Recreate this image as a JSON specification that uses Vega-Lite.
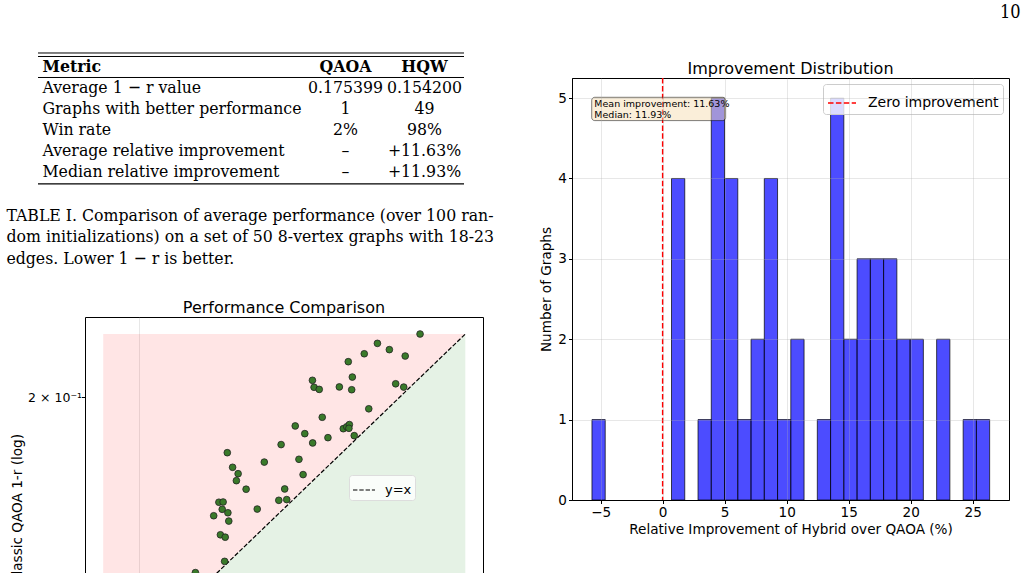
{
  "$schema": "https://vega.github.io/schema/vega-lite/v6.json",
  "padding": {"left": 6, "top": 4, "right": 0, "bottom": 0},
  "background": "white",
  "config": {"font": "DejaVu Sans", "view": {"stroke": null}},
  "title": {"text": "10", "anchor": "end", "font": "DejaVu Serif Condensed, DejaVu Serif", "fontSize": 18, "fontWeight": "normal", "color": "black", "offset": 30, "dx": 11},
  "resolve": {"scale": {"color": "independent"}, "legend": {"color": "independent"}},
  "spacing": 44,
  "hconcat": [
    {
      "spacing": 31,
      "resolve": {"scale": {"color": "independent"}, "legend": {"color": "independent"}},
      "vconcat": [
        {
          "width": 426,
          "height": 131,
          "data": {"values": [
            {"metric": "Metric", "QAOA": "QAOA", "HQW": "HQW"},
            {"metric": "Average 1 − r value", "QAOA": "0.175399", "HQW": "0.154200"},
            {"metric": "Graphs with better performance", "QAOA": "1", "HQW": "49"},
            {"metric": "Win rate", "QAOA": "2%", "HQW": "98%"},
            {"metric": "Average relative improvement", "QAOA": "–", "HQW": "+11.63%"},
            {"metric": "Median relative improvement", "QAOA": "–", "HQW": "+11.93%"}
          ]},
          "transform": [{"fold": ["QAOA", "HQW"], "as": ["col", "val"]}],
          "title": {
            "text": ["TABLE I. Comparison of average performance (over 100 ran-", "dom initializations) on a set of 50 8-vertex graphs with 18-23", "edges. Lower 1 − r is better."],
            "orient": "bottom", "anchor": "start", "font": "DejaVu Serif Condensed, DejaVu Serif", "fontSize": 17.5, "fontWeight": "normal", "color": "black", "lineHeight": 21.5, "offset": 22, "dx": -31, "baseline": "top"
          },
          "layer": [
            {
              "transform": [{"filter": "datum.metric !== 'Metric'"}],
              "mark": {"type": "text", "font": "DejaVu Serif Condensed, DejaVu Serif", "fontSize": 17.5, "color": "black"},
              "encoding": {
                "x": {"field": "col", "type": "nominal", "scale": {"type": "band", "domain": ["QAOA", "HQW"], "range": [268, 426], "paddingInner": 0, "paddingOuter": 0}, "axis": null},
                "y": {"field": "metric", "type": "nominal",
                  "scale": {"type": "band", "domain": ["Metric", "Average 1 − r value", "Graphs with better performance", "Win rate", "Average relative improvement", "Median relative improvement"], "paddingInner": 0, "paddingOuter": 0.119, "align": 0.7},
                  "axis": {"orient": "left", "title": null, "domain": false, "ticks": false, "grid": false, "labelAlign": "left", "labelPadding": -4, "labelLimit": 0, "labelFont": "DejaVu Serif Condensed, DejaVu Serif", "labelFontSize": 17.5, "labelColor": "black",
                    "labelFontWeight": {"condition": {"test": "datum.value === 'Metric'", "value": "bold"}, "value": "normal"}}},
                "text": {"field": "val"}
              }
            },
            {
              "transform": [{"filter": "datum.metric === 'Metric'"}],
              "mark": {"type": "text", "font": "DejaVu Serif Condensed, DejaVu Serif", "fontSize": 17.5, "fontWeight": "bold", "color": "black"},
              "encoding": {
                "x": {"field": "col", "type": "nominal"},
                "y": {"field": "metric", "type": "nominal"},
                "text": {"field": "val"}
              }
            },
            {
              "data": {"values": [{}]},
              "mark": {"type": "rule", "color": "black", "strokeWidth": 1},
              "encoding": {"y": {"datum": "Metric", "type": "nominal", "bandPosition": -0.1667}}
            },
            {
              "data": {"values": [{}]},
              "mark": {"type": "rule", "color": "black", "strokeWidth": 1},
              "encoding": {"y": {"datum": "Metric", "type": "nominal", "bandPosition": 0}}
            },
            {
              "data": {"values": [{}]},
              "mark": {"type": "rule", "color": "black", "strokeWidth": 1},
              "encoding": {"y": {"datum": "Metric", "type": "nominal", "bandPosition": 1}}
            },
            {
              "data": {"values": [{}]},
              "mark": {"type": "rule", "color": "black", "strokeWidth": 1.2},
              "encoding": {"y": {"datum": "Median relative improvement", "type": "nominal", "bandPosition": 1.07}}
            }
          ]
        },
        {
          "bounds": "flush",
          "spacing": 46,
          "hconcat": [
            {"width": 1, "height": 1, "data": {"values": []}, "mark": "point"},
            {
              "width": 398,
              "height": 383,
              "title": {"text": "Performance Comparison", "fontSize": 16, "fontWeight": "normal", "color": "black", "offset": 1, "font": "DejaVu Sans"},
              "view": {"stroke": "black", "strokeWidth": 1},
              "layer": [
                {
                  "data": {"values": [{"v": 0.0908}, {"v": 0.2384}]},
                  "mark": {"type": "area", "color": "red", "opacity": 0.1, "orient": "vertical"},
                  "encoding": {
                    "x": {"field": "v", "type": "quantitative", "scale": {"type": "log", "domain": [0.0865, 0.2499], "nice": false},
                      "axis": {"values": [0.1], "labelExpr": "'10⁻¹'", "grid": true, "gridColor": "#b0b0b0", "gridOpacity": 0.3, "tickSize": 3.5, "tickColor": "black", "domain": false, "labelColor": "black", "labelFontSize": 13.6, "title": null}},
                    "y": {"field": "v", "type": "quantitative", "scale": {"type": "log", "domain": [0.0865, 0.2499], "nice": false},
                      "axis": {"values": [0.1, 0.2], "labelExpr": "datum.value < 0.15 ? '10⁻¹' : '2 × 10⁻¹'", "grid": false, "tickSize": 3.5, "tickColor": "black", "domain": false, "labelColor": "black", "labelFontSize": 12.5, "labelPadding": 0, "title": "Classic QAOA 1-r (log)", "titleFontSize": 13.6, "titleFontWeight": "normal", "titleColor": "black", "titlePadding": 3}},
                    "y2": {"datum": 0.2384}
                  }
                },
                {
                  "data": {"values": [{"v": 0.0908}, {"v": 0.2384}]},
                  "mark": {"type": "area", "color": "green", "opacity": 0.1, "orient": "vertical"},
                  "encoding": {
                    "x": {"field": "v", "type": "quantitative"},
                    "y": {"field": "v", "type": "quantitative"},
                    "y2": {"datum": 0.0908}
                  }
                },
                {
                  "data": {"values": [{"v": 0.0908}, {"v": 0.2384}]},
                  "mark": {"type": "line", "strokeDash": [4.4, 1.9], "strokeWidth": 1.2},
                  "encoding": {
                    "x": {"field": "v", "type": "quantitative"},
                    "y": {"field": "v", "type": "quantitative"},
                    "color": {"datum": "y=x", "scale": {"range": ["black"]},
                      "legend": {"title": null, "orient": "none", "legendX": 311, "legendY": 158, "symbolType": "stroke", "symbolDash": [4.4, 1.9], "symbolSize": 484, "symbolStrokeWidth": 1.2, "labelFontSize": 13, "labelColor": "black", "labelOffset": 9, "fillColor": "rgba(255,255,255,0.8)", "strokeColor": "#dddddd", "padding": 3, "cornerRadius": 3}}
                  }
                },
                {
                  "data": {"values": [
                    {"hqw": 0.2113, "qaoa": 0.2384}, {"hqw": 0.1886, "qaoa": 0.2323}, {"hqw": 0.1947, "qaoa": 0.2283}, {"hqw": 0.1821, "qaoa": 0.2257},
                    {"hqw": 0.2031, "qaoa": 0.2243}, {"hqw": 0.1745, "qaoa": 0.2208}, {"hqw": 0.1586, "qaoa": 0.2097}, {"hqw": 0.1764, "qaoa": 0.2116},
                    {"hqw": 0.1593, "qaoa": 0.2057}, {"hqw": 0.1615, "qaoa": 0.2045}, {"hqw": 0.1704, "qaoa": 0.2059}, {"hqw": 0.1761, "qaoa": 0.2043},
                    {"hqw": 0.1980, "qaoa": 0.2077}, {"hqw": 0.2023, "qaoa": 0.2058}, {"hqw": 0.1843, "qaoa": 0.1938}, {"hqw": 0.1628, "qaoa": 0.1893},
                    {"hqw": 0.1515, "qaoa": 0.1848}, {"hqw": 0.1722, "qaoa": 0.1834}, {"hqw": 0.1738, "qaoa": 0.1844}, {"hqw": 0.1750, "qaoa": 0.1855},
                    {"hqw": 0.1748, "qaoa": 0.1836}, {"hqw": 0.1773, "qaoa": 0.1799}, {"hqw": 0.1554, "qaoa": 0.1809}, {"hqw": 0.1653, "qaoa": 0.1789},
                    {"hqw": 0.1587, "qaoa": 0.1763}, {"hqw": 0.1459, "qaoa": 0.1755}, {"hqw": 0.1264, "qaoa": 0.1716}, {"hqw": 0.1282, "qaoa": 0.1648},
                    {"hqw": 0.1395, "qaoa": 0.1672}, {"hqw": 0.1530, "qaoa": 0.1685}, {"hqw": 0.1301, "qaoa": 0.1619}, {"hqw": 0.1295, "qaoa": 0.1588},
                    {"hqw": 0.1547, "qaoa": 0.1615}, {"hqw": 0.1329, "qaoa": 0.1551}, {"hqw": 0.1473, "qaoa": 0.1552}, {"hqw": 0.1236, "qaoa": 0.1496},
                    {"hqw": 0.1250, "qaoa": 0.1497}, {"hqw": 0.1450, "qaoa": 0.1504}, {"hqw": 0.1481, "qaoa": 0.1507}, {"hqw": 0.1247, "qaoa": 0.1467},
                    {"hqw": 0.1266, "qaoa": 0.1453}, {"hqw": 0.1219, "qaoa": 0.1441}, {"hqw": 0.1369, "qaoa": 0.1468}, {"hqw": 0.1269, "qaoa": 0.1420},
                    {"hqw": 0.1241, "qaoa": 0.1367}, {"hqw": 0.1257, "qaoa": 0.1358}, {"hqw": 0.1255, "qaoa": 0.1270}, {"hqw": 0.1161, "qaoa": 0.1231},
                    {"hqw": 0.0908, "qaoa": 0.0985}, {"hqw": 0.1112, "qaoa": 0.1052}
                  ]},
                  "mark": {"type": "circle", "fill": "#3a7a2a", "fillOpacity": 1, "stroke": "#222222", "strokeWidth": 0.8, "size": 45},
                  "encoding": {
                    "x": {"field": "hqw", "type": "quantitative"},
                    "y": {"field": "qaoa", "type": "quantitative"}
                  }
                }
              ]
            }
          ]
        }
      ]
    },
    {
      "bounds": "flush",
      "spacing": 24,
      "resolve": {"scale": {"color": "independent"}, "legend": {"color": "independent"}},
      "vconcat": [
        {"width": 1, "height": 1, "data": {"values": []}, "mark": "point"},
        {
          "width": 437,
          "height": 422,
          "title": {"text": "Improvement Distribution", "fontSize": 16, "fontWeight": "normal", "color": "black", "offset": 0, "font": "DejaVu Sans"},
          "view": {"stroke": "black", "strokeWidth": 1},
          "layer": [
            {
              "data": {"values": [
                {"start": -5.700, "end": -4.631, "count": 1},
                {"start": 0.714, "end": 1.783, "count": 4},
                {"start": 2.852, "end": 3.921, "count": 1},
                {"start": 3.921, "end": 4.990, "count": 5},
                {"start": 4.990, "end": 6.059, "count": 4},
                {"start": 6.059, "end": 7.128, "count": 1},
                {"start": 7.128, "end": 8.197, "count": 2},
                {"start": 8.197, "end": 9.266, "count": 4},
                {"start": 9.266, "end": 10.335, "count": 1},
                {"start": 10.335, "end": 11.404, "count": 2},
                {"start": 12.473, "end": 13.542, "count": 1},
                {"start": 13.542, "end": 14.611, "count": 5},
                {"start": 14.611, "end": 15.680, "count": 2},
                {"start": 15.680, "end": 16.749, "count": 3},
                {"start": 16.749, "end": 17.818, "count": 3},
                {"start": 17.818, "end": 18.887, "count": 3},
                {"start": 18.887, "end": 19.956, "count": 2},
                {"start": 19.956, "end": 21.025, "count": 2},
                {"start": 22.094, "end": 23.163, "count": 2},
                {"start": 24.232, "end": 25.301, "count": 1},
                {"start": 25.301, "end": 26.370, "count": 1}
              ]},
              "mark": {"type": "rect", "fill": "#0000ff", "fillOpacity": 0.7, "stroke": "black", "strokeOpacity": 0.7, "strokeWidth": 1},
              "encoding": {
                "x": {"field": "start", "type": "quantitative", "scale": {"domain": [-7.31, 27.93], "nice": false, "zero": false},
                  "axis": {"title": "Relative Improvement of Hybrid over QAOA (%)", "values": [-5, 0, 5, 10, 15, 20, 25], "format": "d", "grid": true, "gridColor": "#b0b0b0", "gridOpacity": 0.3, "domain": true, "domainColor": "black", "zindex": 1, "tickColor": "black", "tickSize": 3.5, "labelFontSize": 13.6, "labelColor": "black", "labelPadding": 2, "titleFontSize": 13.6, "titleFontWeight": "normal", "titleColor": "black", "titlePadding": 3}},
                "x2": {"field": "end"},
                "y": {"field": "count", "type": "quantitative", "scale": {"domain": [0, 5.25], "nice": false},
                  "axis": {"title": "Number of Graphs", "values": [0, 1, 2, 3, 4, 5], "format": "d", "grid": true, "gridColor": "#b0b0b0", "gridOpacity": 0.3, "domain": true, "domainColor": "black", "zindex": 1, "tickColor": "black", "tickSize": 3.5, "labelFontSize": 13.6, "labelColor": "black", "labelPadding": 2, "titleFontSize": 13.6, "titleFontWeight": "normal", "titleColor": "black", "titlePadding": 4}},
                "y2": {"datum": 0}
              }
            },
            {
              "data": {"values": [{}]},
              "mark": {"type": "rule", "strokeDash": [5.5, 2.4], "strokeWidth": 1.5},
              "encoding": {
                "x": {"datum": 0},
                "color": {"datum": "Zero improvement", "scale": {"range": ["red"]},
                  "legend": {"title": null, "orient": "top-right", "offset": 6, "symbolType": "stroke", "symbolDash": [5.5, 2.4], "symbolSize": 784, "symbolStrokeWidth": 1.5, "labelFontSize": 14, "labelColor": "black", "labelOffset": 11, "fillColor": "rgba(255,255,255,0.8)", "strokeColor": "#cccccc", "padding": 4, "cornerRadius": 3}}
              }
            },
            {
              "data": {"values": [{}]},
              "mark": {"type": "rect", "fill": "#f5deb3", "fillOpacity": 0.5, "stroke": "black", "strokeOpacity": 0.5, "strokeWidth": 1, "cornerRadius": 3},
              "encoding": {
                "x": {"datum": -5.72}, "x2": {"datum": 5.08},
                "y": {"datum": 5.01}, "y2": {"datum": 4.72}
              }
            },
            {
              "data": {"values": [{}]},
              "mark": {"type": "text", "align": "left", "baseline": "top", "fontSize": 9.5, "lineHeight": 10.7, "color": "black"},
              "encoding": {
                "x": {"datum": -5.51}, "y": {"datum": 4.99},
                "text": {"value": ["Mean improvement: 11.63%", "Median: 11.93%"]}
              }
            }
          ]
        }
      ]
    }
  ]
}
